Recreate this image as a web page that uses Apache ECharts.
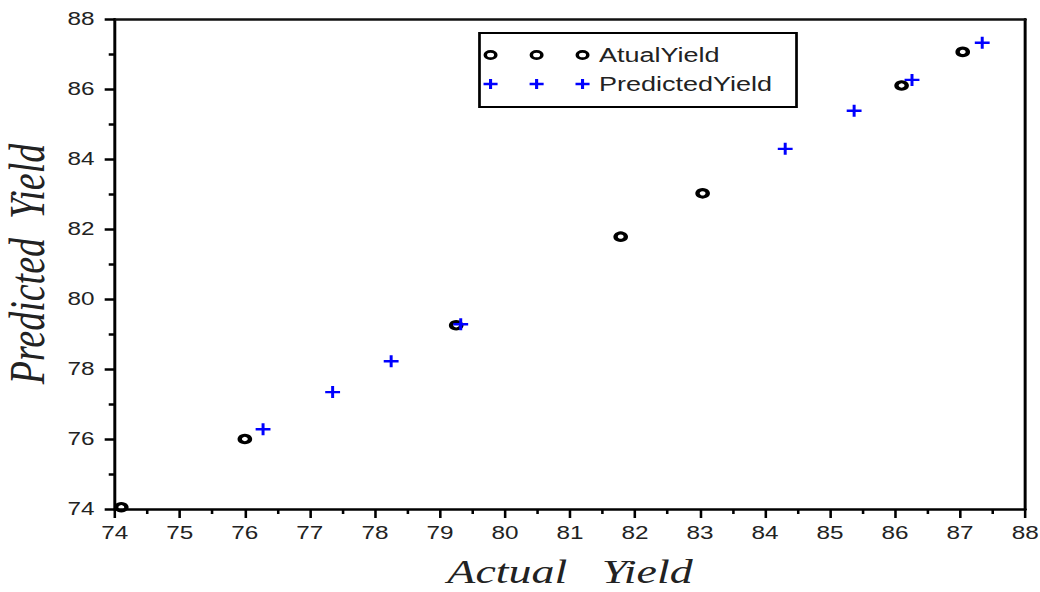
<!DOCTYPE html>
<html>
<head>
<meta charset="utf-8">
<script src="https://cdn.jsdelivr.net/npm/echarts@6/dist/echarts.min.js"></script>
<style>
  html, body { margin: 0; padding: 0; background: #fff; overflow: hidden; }
  #wrap { width: 1040px; height: 592px; overflow: hidden; }
  /* the original figure is stretched sideways, so draw narrow and widen */
  #chart { width: 770px; height: 592px; transform: scaleX(1.35065); transform-origin: 0 0; }
</style>
</head>
<body>
<div id="wrap"><div id="chart"></div></div>
<script>
// actual yield points
var actualX = [74.1, 76.0, 79.25, 81.78, 83.04, 86.1, 87.04];
var actualY = [74.05, 76.0, 79.25, 81.78, 83.02, 86.1, 87.06];
// predicted yield points
var predX = [76.28, 77.35, 78.25, 79.32, 84.31, 85.37, 86.26, 87.34];
var predY = [76.28, 77.34, 78.22, 79.28, 84.29, 85.38, 86.26, 87.32];
var seriesNames = ['AtualYield', 'PredictedYield'];

function zip(a, b) {
  return a.map(function (v, i) { return [v, b[i]]; });
}

// legend icons: three rings / three plus signs in one path
var iconCenters = [5.2, 39.3, 73.3];
function ringPath(cx) {
  return 'M' + (cx - 5.2) + ',5 A5.2,5 0 1,0 ' + (cx + 5.2) + ',5 A5.2,5 0 1,0 ' + (cx - 5.2) + ',5 Z ' +
         'M' + (cx - 2.6) + ',5 A2.6,2.3 0 1,1 ' + (cx + 2.6) + ',5 A2.6,2.3 0 1,1 ' + (cx - 2.6) + ',5 Z';
}
function plusPath(cx) {
  return 'M' + (cx - 1.15) + ',0 H' + (cx + 1.15) + ' V3.7 H' + (cx + 5.2) + ' V6.3 H' + (cx + 1.15) +
         ' V10 H' + (cx - 1.15) + ' V6.3 H' + (cx - 5.2) + ' V3.7 H' + (cx - 1.15) + ' Z';
}
var ringIcon = 'path://' + iconCenters.map(ringPath).join(' ');
var plusIcon = 'path://' + iconCenters.map(plusPath).join(' ');

var myChart = echarts.init(document.getElementById('chart'), null, { renderer: 'svg' });
var option = {
  backgroundColor: '#fff',
  animation: false,
  grid: { left: 85, right: 11, top: 19, bottom: 83, outerBoundsMode: 'none' },
  legend: {
    left: 355,
    top: 33,
    orient: 'vertical',
    padding: [12, 18, 13, 3],
    borderColor: '#000',
    borderWidth: 2,
    itemWidth: 78.5,
    itemHeight: 10,
    itemGap: 9,
    textStyle: { fontFamily: 'Liberation Sans', fontSize: 20, color: '#222', padding: [0, 0, 0, 2] },
    data: [
      { name: seriesNames[0], icon: ringIcon, itemStyle: { color: '#000', borderWidth: 0 } },
      { name: seriesNames[1], icon: plusIcon, itemStyle: { color: '#0000ff', borderWidth: 0 } }
    ]
  },
  xAxis: [{
    type: 'value',
    min: 74, max: 88, interval: 1,
    name: 'Actual   Yield',
    nameLocation: 'middle',
    nameGap: 46,
    nameTextStyle: { fontFamily: 'Liberation Serif', fontStyle: 'italic', fontSize: 34, lineHeight: 34, color: '#222' },
    axisLine: { lineStyle: { color: '#000', width: 2.5 } },
    axisTick: { inside: false, length: 9, lineStyle: { color: '#000', width: 1.9 } },
    minorTick: { show: true, splitNumber: 2, length: 5, lineStyle: { color: '#000', width: 1.9 } },
    axisLabel: { fontFamily: 'Liberation Sans', fontSize: 18, color: '#222', margin: 15 },
    splitLine: { show: false }
  }, {
    type: 'value', position: 'top',
    min: 74, max: 88,
    axisLine: { show: true, onZero: false, lineStyle: { color: '#111', width: 2.5 } },
    axisTick: { show: false }, axisLabel: { show: false }, splitLine: { show: false }
  }],
  yAxis: [{
    type: 'value',
    min: 74, max: 88, interval: 2,
    name: 'Predicted  Yield',
    nameLocation: 'middle',
    nameGap: 44,
    nameRotate: 90,
    nameTextStyle: { fontFamily: 'Liberation Serif', fontStyle: 'italic', fontSize: 38, color: '#222' },
    axisLine: { lineStyle: { color: '#000', width: 2.2 } },
    axisTick: { inside: false, length: 7.5, lineStyle: { color: '#000', width: 2.5 } },
    minorTick: { show: true, splitNumber: 2, length: 4.5, lineStyle: { color: '#000', width: 2.5 } },
    axisLabel: { fontFamily: 'Liberation Sans', fontSize: 18, color: '#222', margin: 15 },
    splitLine: { show: false }
  }, {
    type: 'value', position: 'right',
    min: 74, max: 88,
    axisLine: { show: true, onZero: false, lineStyle: { color: '#000', width: 2.2 } },
    axisTick: { show: false }, axisLabel: { show: false }, splitLine: { show: false }
  }],
  series: [{
    name: seriesNames[0],
    type: 'scatter',
    symbol: 'circle',
    symbolSize: [7.6, 7.4],
    itemStyle: { color: 'rgba(0,0,0,0)', borderColor: '#000', borderWidth: 3.2, opacity: 1 },
    data: zip(actualX, actualY)
  }, {
    name: seriesNames[1],
    type: 'scatter',
    symbol: 'path://M4,0H6V4H10V6H6V10H4V6H0V4H4Z',
    symbolSize: [11, 12],
    itemStyle: { color: '#0000ff', opacity: 1 },
    data: zip(predX, predY)
  }]
};
myChart.setOption(option);
</script>
</body>
</html>
